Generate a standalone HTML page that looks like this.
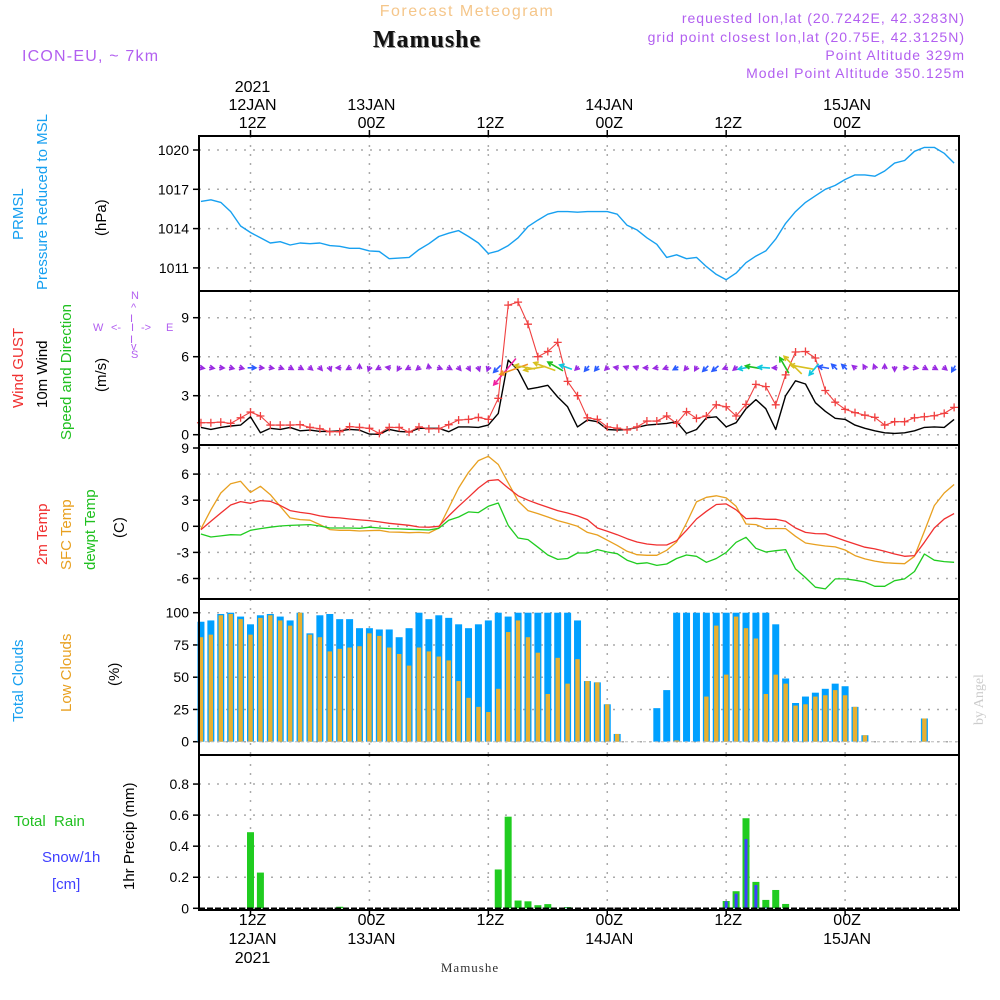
<!DOCTYPE html>
<html><head><meta charset="utf-8"><title>Mamushe meteogram</title>
<style>
html,body{margin:0;padding:0;background:#fff;}
svg{display:block;font-family:"Liberation Sans",sans-serif;}
</style></head>
<body>
<svg id="chart" width="1000" height="1000" viewBox="0 0 1000 1000" xmlns="http://www.w3.org/2000/svg">
  <g id="header">
    <text x="467" y="16" text-anchor="middle" font-size="16" fill="#f5c68a" letter-spacing="1.5">Forecast Meteogram</text>
    <text x="428" y="48" text-anchor="middle" font-size="24" font-weight="bold" font-family="Liberation Serif, serif" fill="#999" letter-spacing="1">Mamushe</text>
    <text x="427" y="47" text-anchor="middle" font-size="24" font-weight="bold" font-family="Liberation Serif, serif" fill="#111" letter-spacing="1">Mamushe</text>
    <text x="22" y="61" font-size="16" fill="#b25ff0" letter-spacing="1.2">ICON-EU, ~ 7km</text>
    <text x="965" y="23" text-anchor="end" font-size="14" fill="#b25ff0" letter-spacing="1">requested lon,lat (20.7242E, 42.3283N)</text>
    <text x="965" y="42" text-anchor="end" font-size="14" fill="#b25ff0" letter-spacing="1">grid point closest lon,lat (20.75E, 42.3125N)</text>
    <text x="965" y="60" text-anchor="end" font-size="14" fill="#b25ff0" letter-spacing="1">Point Altitude 329m</text>
    <text x="965" y="78" text-anchor="end" font-size="14" fill="#b25ff0" letter-spacing="1">Model Point Altitude 350.125m</text>
    <text transform="translate(983,725) rotate(-90)" font-size="14" fill="#ccc" font-family="Liberation Serif, serif">by Angel</text>
  </g>
  <g id="labels" font-size="15">
    <text transform="translate(23,240) rotate(-90)" fill="#17a0f0">PRMSL</text>
    <text transform="translate(47,290) rotate(-90)" fill="#17a0f0">Pressure Reduced to MSL</text>
    <text transform="translate(106,236) rotate(-90)" fill="#000">(hPa)</text>
    <text transform="translate(23,408) rotate(-90)" fill="#f03030">Wind GUST</text>
    <text transform="translate(47,408) rotate(-90)" fill="#000">10m Wind</text>
    <text transform="translate(71,440) rotate(-90)" fill="#20c020">Speed and Direction</text>
    <text transform="translate(106,392) rotate(-90)" fill="#000">(m/s)</text>
    <g font-size="11" fill="#b25ff0">
      <text x="131" y="299">N</text><text x="131" y="358">S</text>
      <text x="93" y="331">W</text><text x="166" y="331">E</text>
      <text x="111" y="331">&lt;-</text><text x="131" y="331">I</text><text x="141" y="331">-&gt;</text>
      <text x="131" y="311">^</text><text x="130" y="322">I</text><text x="130" y="343">I</text><text x="131" y="350">v</text>
    </g>
    <text transform="translate(47,565) rotate(-90)" fill="#f03030">2m Temp</text>
    <text transform="translate(71,570) rotate(-90)" fill="#e8a020">SFC Temp</text>
    <text transform="translate(95,570) rotate(-90)" fill="#20c020">dewpt Temp</text>
    <text transform="translate(124,538) rotate(-90)" fill="#000">(C)</text>
    <text transform="translate(23,722) rotate(-90)" fill="#17a0f0">Total Clouds</text>
    <text transform="translate(71,712) rotate(-90)" fill="#e8a020">Low Clouds</text>
    <text transform="translate(119,686) rotate(-90)" fill="#000">(%)</text>
    <text x="14" y="826" fill="#20c020" xml:space="preserve">Total  Rain</text>
    <text x="42" y="862" fill="#4040ff">Snow/1h</text>
    <text x="52" y="889" fill="#4040ff">[cm]</text>
    <text transform="translate(134,890) rotate(-90)" fill="#000">1hr Precip (mm)</text>
  </g>
  <g id="plot"></g>
</svg>
<script>
// ---- data (hourly, 07Z 12 JAN 2021 .. 11Z 15 JAN) ----
const hoursStart = 7;
const pressure = [1016.08,1016.2,1016.0,1015.3,1014.2,1013.7,1013.3,1012.9,1013.0,1012.75,
1012.9,1012.85,1012.9,1012.7,1012.65,1012.5,1012.5,1012.3,1012.25,1011.7,
1011.75,1011.8,1012.4,1012.85,1013.4,1013.65,1013.85,1013.4,1012.9,1012.1,
1012.3,1012.7,1013.3,1014.15,1014.65,1015.1,1015.3,1015.3,1015.25,1015.3,
1015.3,1015.3,1015.1,1014.25,1013.9,1013.3,1012.8,1011.8,1012.0,1011.7,
1011.8,1011.1,1010.5,1010.1,1010.6,1011.4,1011.9,1012.3,1013.2,1014.4,
1015.3,1016.0,1016.5,1017.0,1017.3,1017.75,1018.1,1018.1,1018.0,1018.4,
1019.0,1019.2,1019.9,1020.2,1020.2,1019.75,1019.0];
const gust = [0.92,0.92,0.97,0.87,1.3,1.74,1.44,0.74,0.74,0.74,
0.77,0.56,0.46,0.23,0.23,0.62,0.56,0.49,0.1,0.56,
0.56,0.2,0.6,0.45,0.45,0.77,1.13,1.18,1.33,1.18,
2.8,9.97,10.2,8.5,6.0,6.4,7.1,4.1,3.0,1.3,
1.18,0.6,0.5,0.36,0.6,1.05,1.05,1.44,0.87,1.77,
1.26,1.44,2.3,2.15,1.44,2.33,3.87,3.7,2.3,4.6,
6.36,6.4,5.9,3.4,2.5,1.95,1.7,1.5,1.33,0.74,
1.0,1.0,1.3,1.38,1.46,1.64,2.1];
const wind = [0.56,0.41,0.56,0.67,0.74,1.38,0.15,0.49,0.41,0.56,
0.3,0.35,0.25,0.25,0.3,0.41,0.35,0.05,0.03,0.41,
0.25,0.2,0.49,0.49,0.49,0.23,0.6,0.6,0.56,0.74,
1.64,5.74,4.97,3.5,3.64,3.8,2.9,2.15,0.6,1.13,
1.0,0.4,0.35,0.4,0.56,0.74,0.8,0.87,1.0,0.1,
0.4,1.3,1.38,0.6,0.92,2.0,2.7,2.0,0.4,3.0,
4.15,3.9,2.46,1.8,1.26,1.18,0.74,0.49,0.3,0.15,
0.1,0.15,0.3,0.56,0.6,0.56,1.18];
const windDir = [280,280,275,285,285,270,275,280,290,300,
300,310,320,340,90,60,180,20,60,100,
30,60,50,170,290,300,320,330,340,20,
45,40,70,100,80,110,120,110,45,40,
40,45,100,110,110,90,80,70,60,40,
30,45,50,70,50,80,100,95,90,150,
135,100,40,100,135,135,130,150,160,180,
0,270,280,300,300,310,30];
const temp2m = [-0.4,0.57,1.53,2.45,2.84,2.64,2.95,2.87,2.4,1.8,
1.6,1.46,1.2,1.03,0.96,0.84,0.73,0.65,0.5,0.34,
0.23,0.11,-0.08,-0.1,0,1.2,2.3,3.33,4.4,5.25,
5.36,4.4,3.5,3.0,2.57,2.18,1.8,1.53,1.2,0.77,
-0.2,-0.57,-0.96,-1.42,-1.8,-2.03,-2.15,-2.15,-1.65,-0.46,
0.84,1.72,2.5,2.57,1.9,0.88,0.92,0.8,0.8,0.57,
-0.2,-0.7,-0.84,-0.86,-1.26,-1.65,-2.03,-2.4,-2.6,-2.87,
-3.18,-3.45,-3.37,-1.84,-0.2,0.84,1.46];
const tempSfc = [-0.3,1.9,3.83,4.9,5.17,3.9,4.6,3.64,2.3,0.96,
0.77,0.7,0.2,-0.38,-0.46,-0.46,-0.54,-0.5,-0.46,-0.65,
-0.68,-0.73,-0.7,-0.77,-0.2,2.1,4.4,6.2,7.55,8.05,
7.1,5.0,2.9,1.8,1.46,1.07,0.65,0.34,0,-0.7,
-1.0,-1.6,-2.2,-2.87,-3.26,-3.33,-3.33,-2.76,-1.8,0.38,
2.8,3.33,3.5,3.26,2.3,0.27,0.2,-0.27,-0.25,-0.27,
-1.15,-1.92,-2.1,-2.26,-2.37,-2.72,-3.37,-3.75,-4.0,-4.18,
-4.25,-4.3,-3.45,-0.57,2.38,3.83,4.8];
const dewpt = [-0.88,-1.23,-1.1,-0.96,-1.0,-0.46,-0.27,-0.1,0.04,0.1,
0.15,0.2,0.04,-0.2,-0.2,-0.2,-0.23,-0.1,-0.2,-0.27,
-0.3,-0.34,-0.38,-0.42,-0.23,0.7,1.07,1.65,1.57,2.3,
2.68,0.1,-1.34,-1.53,-2.4,-3.3,-3.8,-3.7,-3.07,-3.07,
-2.68,-2.95,-3.15,-3.9,-4.3,-4.2,-4.5,-4.33,-3.7,-3.3,
-3.45,-4.14,-3.7,-3.0,-1.84,-1.26,-2.53,-2.95,-2.8,-2.68,
-4.9,-5.9,-7.0,-7.2,-6.05,-6.05,-6.2,-6.4,-6.9,-6.9,
-6.25,-6.05,-5.2,-3.18,-3.9,-4.06,-4.14];
const cloudTotal = [93,94,99,100,97,91,98,99,97,94,
100,84,98,99,95,95,88,88,87,87,
81,88,100,95,98,96,91,88,91,94,
100,97,100,100,100,100,100,100,94,
47,46,29,6,0,0,0,26,40,100,
100,100,100,100,100,100,100,100,100,91,
49,30,35,38,41,45,43,27,5,0,
0,0,0,0,18,0,0,0];
const cloudLow = [81,83,98,99,95,83,96,98,94,90,
100,83,81,70,72,73,74,84,82,73,
68,59,73,70,66,63,47,34,27,23,
41,85,94,81,69,37,65,45,64,
47,46,29,6,0,0,0,0,0,1,
0,0,35,90,52,97,88,80,37,52,
45,28,29,35,36,40,36,27,5,0,
0,0,0,0,18,0,0,0];
const rain = [0,0,0,0,0,0.49,0.23,0,0,0,
0,0,0,0,0.01,0,0,0,0,0,
0,0,0,0,0,0,0,0,0,0,
0.25,0.59,0.05,0.045,0.02,0.027,0,0.008,0,0,
0,0,0,0,0,0,0,0,0,0,
0,0,0,0.047,0.11,0.58,0.17,0.054,0.118,0.028,
0,0,0,0,0,0,0,0,0,0,
0,0,0,0,0,0,0];
const snow = [0,0,0,0,0,0,0,0,0,0,
0,0,0,0,0,0,0,0,0,0,
0,0,0,0,0,0,0,0,0,0,
0,0,0,0,0,0.005,0,0.005,0,0,
0,0,0,0,0,0,0,0,0,0,
0,0,0,0.045,0.094,0.446,0.15,0.005,0,0,
0,0,0,0,0,0,0,0,0,0,
0,0,0,0,0,0,0];
const pressTicks = [1011,1014,1017,1020];
const windTicks = [0,3,6,9];
const tempTicks = [-6,-3,0,3,6,9];
const cloudTicks = [0,25,50,75,100];
const precipTicks = [0,0.2,0.4,0.6,0.8];
const timeTicksHours = [12,24,36,48,60,72];
const topTickLabels = [["2021","12JAN","12Z"],["","13JAN","00Z"],["","","12Z"],["","14JAN","00Z"],["","","12Z"],["","15JAN","00Z"]];
const botTickLabels = [["12Z","12JAN","2021"],["00Z","13JAN",""],["12Z","",""],["00Z","14JAN",""],["12Z","",""],["00Z","15JAN",""]];

// ---- scales ----
const X0 = 199, X1 = 959;
const xH = h => 250.5 + (h - 12) * 9.91;
const xI = i => xH(hoursStart + i);
const yP = v => 150 + (1020 - v) * 13.1;
const yW = v => 434.7 - v * 13;
const yT = v => 526.3 - v * 8.7;
const yC = v => 741.7 - v * 1.29;
const yR = v => 908.3 - v * 155.3;
const panels = [[136,291],[291,445],[445,599],[599,755],[755,910]];

const NS = "http://www.w3.org/2000/svg";
const plot = document.getElementById("plot");
function mk(tag, attrs, parent){
  const e = document.createElementNS(NS, tag);
  for (const k in attrs) e.setAttribute(k, attrs[k]);
  (parent || plot).appendChild(e);
  return e;
}

// grid
const grid = mk("g", {});


timeTicksHours.forEach(h => {
  panels.forEach(p => {
    const l = mk("line", {x1:xH(h), x2:xH(h), y1:p[0], y2:p[1], stroke:"#aaa", "stroke-dasharray":"2,7", "stroke-width":1.5}, grid);
    
    
  });
});
function hgrid(ticks, yf, fmt, name){
  ticks.forEach(t => {
    const y = yf(t);
    const l = mk("line", {x1:X0, x2:X1, y1:y, y2:y, stroke:"#aaa", "stroke-dasharray":"2,7", "stroke-width":1.5}, grid);
    
    
    const tk = mk("line", {x1:X0-6, x2:X0, y1:y, y2:y, stroke:"#000", "stroke-width":1.5});
    
    
    const tx = mk("text", {x:X0-10, y:y+5, "text-anchor":"end", "font-size":14, fill:"#000"});
    tx.textContent = fmt(t);
    
    
  });
}
hgrid(pressTicks, yP, t => String(t), "pressure");
hgrid(windTicks, yW, t => String(t), "wind");
hgrid(tempTicks, yT, t => String(t), "temp");
hgrid(cloudTicks, yC, t => String(t), "cloud");
hgrid(precipTicks, yR, t => t === 0 ? "0" : t.toFixed(1), "precip");

function polyline(arr, yf, color, name, w){
  const pts = arr.map((v,i) => xI(i).toFixed(1) + "," + yf(v).toFixed(1)).join(" ");
  const p = mk("polyline", {points:pts, fill:"none", stroke:color, "stroke-width":w||1.3, "stroke-linejoin":"round"});
  
  
  return p;
}

// pressure
polyline(pressure, yP, "#17a0f0", "pressure-line", 1.4);

// clouds
cloudTotal.forEach((v,i) => {
  if (v <= 0) return;
  const r = mk("rect", {x:xI(i)-3.5, y:yC(v), width:7, height:yC(0)-yC(v), fill:"#00a0ff"});
  
  
});
cloudLow.forEach((v,i) => {
  if (v <= 0) return;
  const r = mk("rect", {x:xI(i)-2.2, y:yC(v), width:4.4, height:yC(0)-yC(v), fill:"#e8b030"});
  
  
});
const cb = mk("line", {x1:X0, x2:X1, y1:yC(0), y2:yC(0), stroke:"#bbb", "stroke-width":1, "stroke-dasharray":"3,3"});



// precip
rain.forEach((v,i) => {
  if (v <= 0) return;
  const r = mk("rect", {x:xI(i)-3.5, y:yR(v), width:7, height:yR(0)-yR(v), fill:"#20cc20"});
  
  
});
snow.forEach((v,i) => {
  if (v <= 0) return;
  const r = mk("rect", {x:xI(i)-1.5, y:yR(v), width:3, height:yR(0)-yR(v), fill:"#4040ff"});
  
  
});
const pb = mk("line", {x1:X0, x2:X1, y1:yR(0), y2:yR(0), stroke:"#000", "stroke-width":1.5, "stroke-dasharray":"6,2"});



// temperatures
polyline(tempSfc, yT, "#e8a020", "sfc-temp-line");
polyline(temp2m, yT, "#f03030", "2m-temp-line");
polyline(dewpt, yT, "#20cc20", "dewpt-line");

// wind
polyline(wind, yW, "#000", "wind-speed-line", 1.4);
polyline(gust, yW, "#f04040", "gust-line", 1.1);
gust.forEach((v,i) => {
  const x = xI(i), y = yW(v);
  const c = mk("path", {d:`M${x-4},${y}H${x+4}M${x},${y-4}V${y+4}`, stroke:"#f04040", "stroke-width":1.3});
  
  
});
function windColor(s){
  if (s < 1) return "#9a2be2";
  if (s < 2) return "#2a5cff";
  if (s < 2.5) return "#10c8e0";
  if (s < 3.2) return "#20c020";
  if (s < 4.5) return "#d8c020";
  if (s < 5.5) return "#f09020";
  return "#f020a0";
}
const yArrow = yW(5.15);
wind.forEach((s,i) => {
  const th = (windDir[i] + 180) * Math.PI / 180;
  const dx = Math.sin(th), dy = -Math.cos(th);
  const L = Math.max(5, s * 6);
  const cx = xI(i), col = windColor(s);
  const x1 = cx - dx*L*0.35, y1 = yArrow - dy*L*0.35;
  const x2 = cx + dx*L*0.65, y2 = yArrow + dy*L*0.65;
  const h = 5, a = 0.5;
  const hx1 = x2 - h*(dx*Math.cos(a) - dy*Math.sin(a)), hy1 = y2 - h*(dy*Math.cos(a) + dx*Math.sin(a));
  const hx2 = x2 - h*(dx*Math.cos(-a) - dy*Math.sin(-a)), hy2 = y2 - h*(dy*Math.cos(-a) + dx*Math.sin(-a));
  const ar = mk("path", {d:`M${x1.toFixed(1)},${y1.toFixed(1)}L${x2.toFixed(1)},${y2.toFixed(1)}M${hx1.toFixed(1)},${hy1.toFixed(1)}L${x2.toFixed(1)},${y2.toFixed(1)}L${hx2.toFixed(1)},${hy2.toFixed(1)}`, stroke:col, "stroke-width":1.6, fill:"none"});
  
  
});

// frames
panels.forEach(p => {
  const r = mk("rect", {x:X0, y:p[0], width:X1-X0, height:p[1]-p[0], fill:"none", stroke:"#000", "stroke-width":2});
  
  
});

// time axis labels
timeTicksHours.forEach((h,k) => {
  const x = xH(h);
  const tt = mk("line", {x1:x, x2:x, y1:130, y2:136, stroke:"#000", "stroke-width":1.5});
  
  
  const bt = mk("line", {x1:x, x2:x, y1:910, y2:916, stroke:"#000", "stroke-width":1.5});
  
  
  topTickLabels[k].forEach((s,j) => {
    if (!s) return;
    const t = mk("text", {x:x+2, y:92+j*18, "text-anchor":"middle", "font-size":16, fill:"#000"});
    t.textContent = s;
    
    
  });
  botTickLabels[k].forEach((s,j) => {
    if (!s) return;
    const t = mk("text", {x:x+2, y:925+j*19, "text-anchor":"middle", "font-size":16, fill:"#000"});
    t.textContent = s;
    
    
  });
});
const foot = mk("text", {x:470, y:972, "text-anchor":"middle", "font-size":13, fill:"#333", "font-family":"Liberation Serif, serif", "letter-spacing":"1"});
foot.textContent = "Mamushe";


</script>
</body></html>
